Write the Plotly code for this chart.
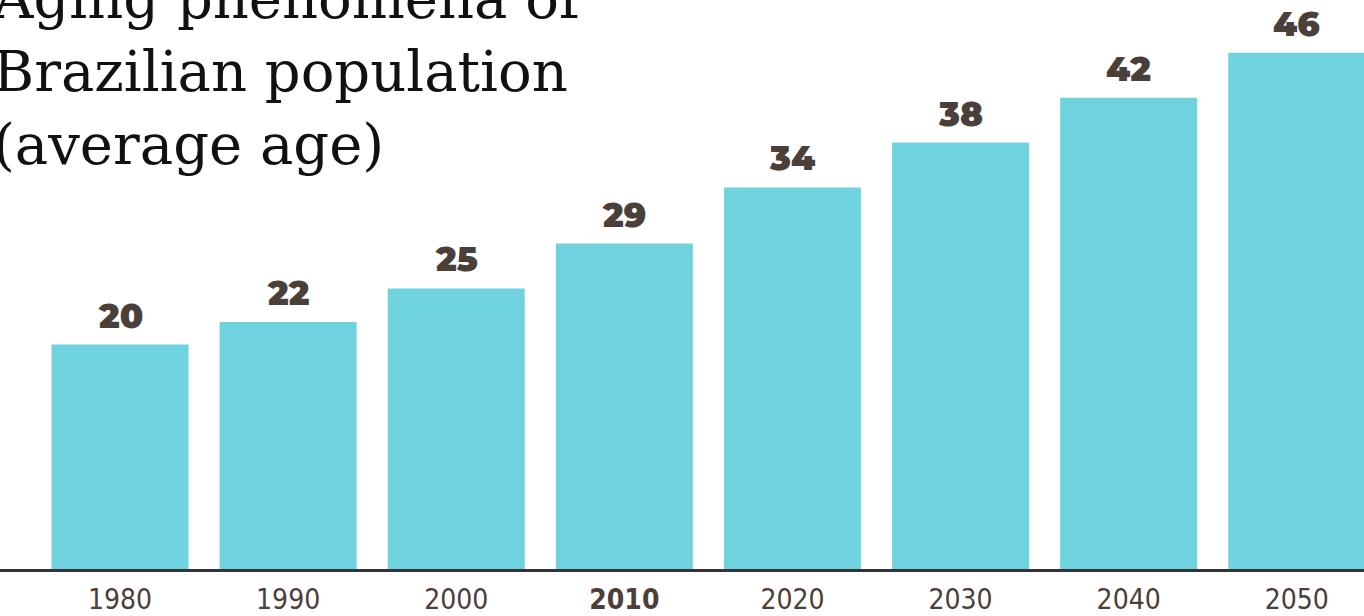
import plotly.graph_objects as go

years = ["1980", "1990", "2000", "2010", "2020", "2030", "2040", "2050"]
year_labels = ["1980", "1990", "2000", "<b>2010</b>", "2020", "2030", "2040", "2050"]
avg_age = [20, 22, 25, 29, 34, 38, 42, 46]
title_lines = ["Aging phenomena of", "Brazilian population", "(average age)"]

BAR_COLOR = "#6ED2DF"
LABEL_COLOR = "#4A4039"

fig = go.Figure()
fig.add_trace(go.Bar(
    x=years, y=avg_age,
    marker=dict(color=BAR_COLOR, line=dict(width=0)),
    hoverinfo="skip",
))

for i, v in enumerate(avg_age):
    fig.add_annotation(
        x=i, y=v, xref="x", yref="y",
        text=str(v), showarrow=False,
        yanchor="bottom", yshift=6,
        font=dict(family="Montserrat, Lato, Inter, 'DejaVu Sans'", size=34, color=LABEL_COLOR, weight=900),
    )

fig.add_annotation(
    x=0, y=1 - 179 / 569, xref="paper", yref="paper",
    xanchor="left", yanchor="bottom", xshift=-10,
    text="<br>".join(title_lines), align="left", showarrow=False,
    font=dict(family="'DejaVu Serif', 'Liberation Serif', serif", size=56, color="#111111"),
)

fig.update_layout(
    width=1364, height=616,
    margin=dict(l=0, r=0, t=0, b=47),
    paper_bgcolor="white", plot_bgcolor="white",
    bargap=0.185, showlegend=False,
    xaxis=dict(
        type="category", range=[-0.714, 7.40],
        tickvals=years, ticktext=year_labels,
        showline=True, linewidth=3, linecolor="#33333A",
        showgrid=False, zeroline=False, ticks="",
        tickfont=dict(family="'Liberation Sans Narrow', 'DejaVu Sans Condensed', 'Roboto Condensed', Roboto", size=28, color=LABEL_COLOR),
        ticklabelstandoff=3,
    ),
    yaxis=dict(
        range=[0, 50.7], visible=False, showgrid=False, zeroline=False,
    ),
)

fig.write_html("out.html", config={"displayModeBar": False},
               post_script="document.body.style.margin='0';")
